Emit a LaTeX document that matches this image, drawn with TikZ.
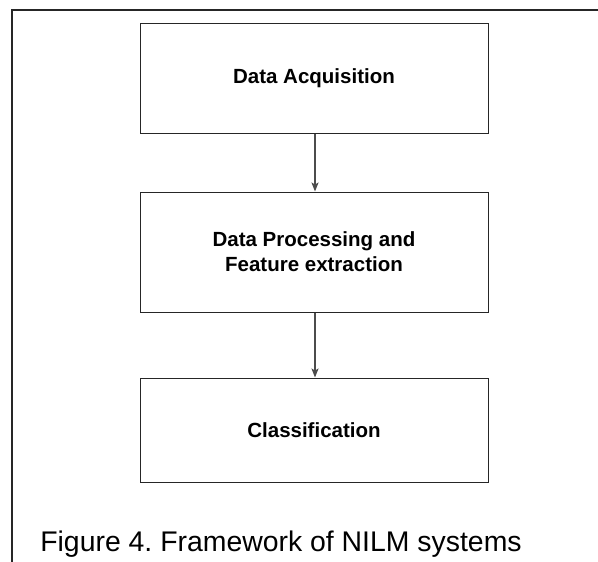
\documentclass[tikz,border=0pt]{standalone}
\usepackage{fontspec}
\setmainfont{Liberation Sans}
\usetikzlibrary{arrows.meta}
\frenchspacing
\begin{document}
\begin{tikzpicture}[x=1pt,y=-1pt,
  stagebox/.style={draw=black!85,line width=1pt,minimum width=348pt,inner sep=0pt,font=\fontsize{20.5pt}{25pt}\selectfont\bfseries,align=center},
  flowarrow/.style={draw=black!70,line width=1.2pt,-{Stealth[length=9pt,width=7pt,inset=2pt]}},
  frameline/.style={draw=black!85,line width=1.6pt}]
\useasboundingbox (0,0) rectangle (598,562);
\draw[frameline] (12,562) -- (12,10) -- (598,10);
\node[stagebox,minimum height=110pt] (acq) at (314,78) {Data Acquisition};
\node[stagebox,minimum height=120pt] (proc) at (314,252) {Data Processing and\\Feature extraction};
\node[stagebox,minimum height=104pt] (cls) at (314,430) {Classification};
\draw[flowarrow] (acq.south -| 315,0) -- (proc.north -| 315,0);
\draw[flowarrow] (proc.south -| 315,0) -- (cls.north -| 315,0);
\node[font=\fontsize{28.4pt}{34pt}\selectfont,anchor=base] (cap) at (281,551) {Figure 4. Framework of NILM systems};
\end{tikzpicture}
\end{document}
